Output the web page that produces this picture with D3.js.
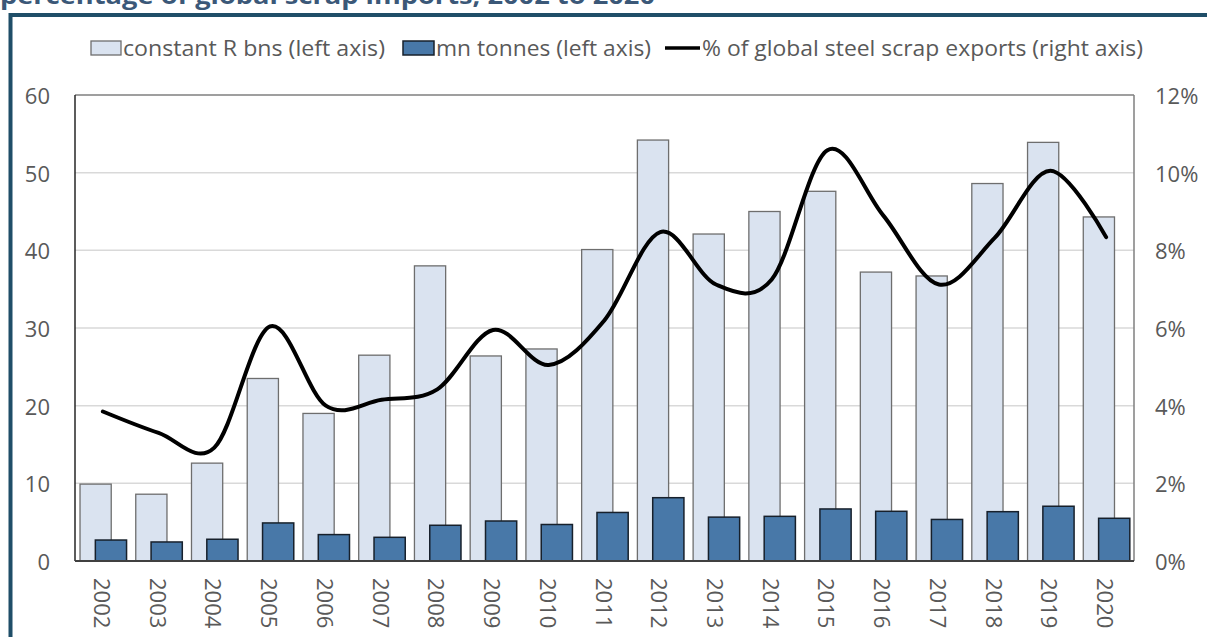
<!DOCTYPE html>
<html>
<head>
<meta charset="utf-8">
<script src="https://cdn.jsdelivr.net/npm/d3@7"></script>
<style>
  html, body { margin: 0; padding: 0; background: #ffffff; }
  svg { display: block; }
  text { font-family: "Open Sans", "Noto Sans", "DejaVu Sans", sans-serif; }
</style>
</head>
<body>
<svg id="chart" width="1207" height="637"></svg>
<script>
// Steel scrap imports, 2002–2020
const years = ["2002","2003","2004","2005","2006","2007","2008","2009","2010","2011",
               "2012","2013","2014","2015","2016","2017","2018","2019","2020"];
const randBns = [9.9, 8.6, 12.6, 23.5, 19.0, 26.5, 38.0, 26.4, 27.3, 40.1,
                 54.2, 42.1, 45.0, 47.6, 37.2, 36.7, 48.6, 53.9, 44.3];
const mnTonnes = [2.7, 2.45, 2.8, 4.9, 3.4, 3.05, 4.6, 5.15, 4.7, 6.25,
                  8.15, 5.65, 5.75, 6.7, 6.4, 5.35, 6.35, 7.05, 5.5];
const scrapShare = [0.0385, 0.0330, 0.0292, 0.0604, 0.0400, 0.0415, 0.0442, 0.0595, 0.0505, 0.0620,
                    0.0847, 0.0712, 0.0725, 0.1058, 0.0890, 0.0712, 0.0832, 0.1005, 0.0834];
const leftTicks = [0, 10, 20, 30, 40, 50, 60];
const rightTicks = [0, 0.02, 0.04, 0.06, 0.08, 0.10, 0.12];
const seriesNames = ["constant R bns (left axis)", "mn tonnes (left axis)",
                     "% of global steel scrap exports (right axis)"];
const titleText = "percentage of global scrap imports, 2002 to 2020";

const svg = d3.select("#chart");
const W = 1207, H = 637;
const plot = { left: 75, right: 1134, top: 95, bottom: 561 };

const lightFill = "#dae3f0", lightStroke = "#6e6e6e";
const darkFill = "#4878a8", darkStroke = "#17202b";
const labelColor = "#595959";

svg.append("rect").attr("width", W).attr("height", H).attr("fill", "#ffffff");

// Title (runs off the top edge of the frame)
svg.append("text")
  .attr("x", 0).attr("y", 4)
  .attr("font-size", 24).attr("font-weight", 700)
  .attr("fill", "#3b5878")
  .attr("textLength", 655).attr("lengthAdjust", "spacingAndGlyphs")
  .text(titleText);

// Frame around the chart
svg.append("path")
  .attr("d", `M10.5,${H} V15 H${W}`)
  .attr("fill", "none").attr("stroke", "#1f4e68").attr("stroke-width", 4);

// Scales
const x = d3.scaleBand().domain(years).range([plot.left, plot.right]).padding(0);
const yL = d3.scaleLinear().domain([0, 60]).range([plot.bottom, plot.top]);
const yR = d3.scaleLinear().domain([0, 0.12]).range([plot.bottom, plot.top]);
const bw = x.bandwidth();

// Horizontal gridlines
svg.append("g").selectAll("line")
  .data(leftTicks.filter(t => t > 0 && t < 60))
  .join("line")
  .attr("x1", plot.left).attr("x2", plot.right)
  .attr("y1", d => yL(d)).attr("y2", d => yL(d))
  .attr("stroke", "#d9d9d9").attr("stroke-width", 1.5);

// Plot area top and right edges
svg.append("line").attr("x1", plot.left).attr("x2", plot.right)
  .attr("y1", plot.top).attr("y2", plot.top)
  .attr("stroke", "#7f7f7f").attr("stroke-width", 1.5);
svg.append("line").attr("x1", plot.right).attr("x2", plot.right)
  .attr("y1", plot.top).attr("y2", plot.bottom)
  .attr("stroke", "#7f7f7f").attr("stroke-width", 1.5);

// Rand value bars
svg.append("g").selectAll("rect")
  .data(years.map((yr, i) => ({ yr, v: randBns[i] })))
  .join("rect")
  .attr("x", d => x(d.yr) + bw * 0.09)
  .attr("width", bw * 0.56)
  .attr("y", d => yL(d.v))
  .attr("height", d => yL(0) - yL(d.v))
  .attr("fill", lightFill)
  .attr("stroke", lightStroke).attr("stroke-width", 1.3);

// Tonnage bars
svg.append("g").selectAll("rect")
  .data(years.map((yr, i) => ({ yr, v: mnTonnes[i] })))
  .join("rect")
  .attr("x", d => x(d.yr) + bw * 0.365)
  .attr("width", bw * 0.56)
  .attr("y", d => yL(d.v))
  .attr("height", d => yL(0) - yL(d.v))
  .attr("fill", darkFill)
  .attr("stroke", darkStroke).attr("stroke-width", 1.5);

// Share of global exports, smoothed line
const line = d3.line()
  .x((d, i) => x(years[i]) + bw / 2)
  .y(d => yR(d))
  .curve(d3.curveCatmullRom.alpha(0));
svg.append("path")
  .datum(scrapShare)
  .attr("d", line)
  .attr("fill", "none")
  .attr("stroke", "#000000").attr("stroke-width", 4)
  .attr("stroke-linejoin", "round").attr("stroke-linecap", "round");

// Left axis line and x axis line
svg.append("line").attr("x1", plot.left).attr("x2", plot.left)
  .attr("y1", plot.top).attr("y2", plot.bottom)
  .attr("stroke", "#262626").attr("stroke-width", 1.5);
svg.append("line").attr("x1", plot.left).attr("x2", plot.right)
  .attr("y1", plot.bottom).attr("y2", plot.bottom)
  .attr("stroke", "#404040").attr("stroke-width", 2);

// Left tick labels
svg.append("g").selectAll("text")
  .data(leftTicks).join("text")
  .attr("x", 50).attr("y", d => yL(d))
  .attr("text-anchor", "end").attr("dominant-baseline", "central")
  .attr("font-size", 22).attr("fill", labelColor)
  .text(d => d3.format("d")(d));

// Right tick labels
svg.append("g").selectAll("text")
  .data(rightTicks).join("text")
  .attr("x", 1155).attr("y", d => yR(d))
  .attr("text-anchor", "start").attr("dominant-baseline", "central")
  .attr("font-size", 22).attr("fill", labelColor)
  .text(d => d3.format(".0%")(d));

// Year labels, rotated
svg.append("g").selectAll("text")
  .data(years).join("text")
  .attr("transform", d => `translate(${x(d) + bw / 2},578) rotate(90)`)
  .attr("text-anchor", "start").attr("dominant-baseline", "central")
  .attr("font-size", 22).attr("fill", labelColor)
  .text(d => d);

// Legend
const lg = svg.append("g");
const legendY = 48;
lg.append("rect").attr("x", 91).attr("y", legendY - 7).attr("width", 30).attr("height", 14)
  .attr("fill", lightFill).attr("stroke", lightStroke).attr("stroke-width", 1.3);
lg.append("text").attr("x", 123).attr("y", legendY)
  .attr("dominant-baseline", "central").attr("font-size", 21).attr("fill", labelColor)
  .attr("textLength", 262).attr("lengthAdjust", "spacingAndGlyphs")
  .text(seriesNames[0]);
lg.append("rect").attr("x", 403).attr("y", legendY - 7).attr("width", 31).attr("height", 14)
  .attr("fill", darkFill).attr("stroke", darkStroke).attr("stroke-width", 1.5);
lg.append("text").attr("x", 436).attr("y", legendY)
  .attr("dominant-baseline", "central").attr("font-size", 21).attr("fill", labelColor)
  .attr("textLength", 215).attr("lengthAdjust", "spacingAndGlyphs")
  .text(seriesNames[1]);
lg.append("line").attr("x1", 665).attr("x2", 700).attr("y1", legendY).attr("y2", legendY)
  .attr("stroke", "#000").attr("stroke-width", 3.5);
lg.append("text").attr("x", 702).attr("y", legendY)
  .attr("dominant-baseline", "central").attr("font-size", 21).attr("fill", labelColor)
  .attr("textLength", 441).attr("lengthAdjust", "spacingAndGlyphs")
  .text(seriesNames[2]);
</script>
</body>
</html>
